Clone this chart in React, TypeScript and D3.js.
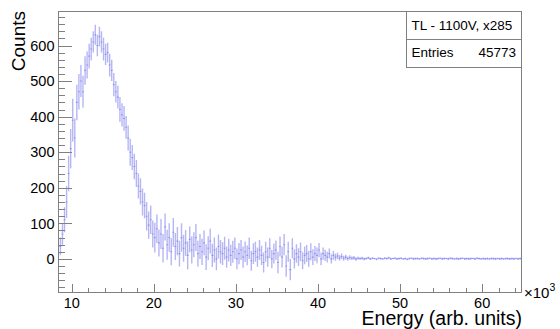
import React from "react";
import * as d3 from "d3";

// Histogram: bins of 250 (arb. units), starting at 8500
const binStart = 8.5; // in 10^3 units
const binWidth = 0.25;
const counts: number[] = [
  35, 70, 110, 160, 240, 310, 390, 340, 440, 470,
  500, 470, 530, 545, 570, 590, 610, 630, 600, 625,
  610, 590, 575, 580, 545, 530, 490, 470, 455, 420,
  405, 395, 370, 340, 300, 285, 260, 240, 205, 190,
  160, 150, 120, 95, 110, 70, 60, 85, 45, 70,
  30, 90, 40, 60, 20, 75, 35, 50, 15, 60,
  30, 45, 10, 55, 25, 40, 60, 15, 35, 20,
  45, 5, 30, 50, 10, 25, 0, 35, 20, 15,
  30, 5, 25, 10, 20, 30, 0, 15, 25, 5,
  20, 10, 30, -5, 15, 20, 5, 25, 10, -10,
  20, 5, 30, 0, 15, 25, -10, 35, 5, 40,
  -20, 20, -30, 30, 0, 15, 5, 20, -5, 10,
  15, 0, 20, 5, 15, 10, 25, 0, 15, 10,
  5, 15, 0, 10, 5, 8, 3, 7, 2, 5,
  1, 4, 2, 3, 0, 2, 1, 2, 0, 1,
  3, 0, 2, 1, -1, 2, 1, 0, 2, 1,
  3, 0, 1, 2, 0, 1, 2, 0, 1, -1,
  1, 2, 0, 1, 1, 0, 2, 1, 0, 1,
  2, 0, 1, 0, 1, 2, 0, 1, 1, 0,
  2, 1, 0, 1, 0, 1, 2, 0, 1, 0,
  1, 1, 0, 2, 1, 0, 1, 0, 1, 0,
  1, 1, 0, 1, 0, 1, 0, 1, 1, 0,
  1, 0, 1, 0, 1, 0,
];
const errors: number[] = [
  25, 30, 35, 45, 50, 55, 60, 55, 50, 50,
  45, 45, 40, 38, 35, 32, 30, 28, 30, 28,
  30, 32, 30, 28, 32, 30, 33, 30, 32, 35,
  33, 35, 32, 35, 38, 35, 36, 38, 35, 37,
  38, 36, 40, 38, 40, 38, 42, 40, 38, 42,
  40, 38, 42, 40, 38, 40, 38, 40, 36, 40,
  38, 36, 40, 36, 38, 35, 38, 36, 35, 37,
  35, 36, 34, 35, 33, 35, 32, 34, 33, 32,
  32, 30, 32, 30, 31, 30, 29, 30, 28, 30,
  29, 28, 30, 28, 29, 28, 27, 28, 27, 28,
  28, 27, 28, 26, 28, 27, 30, 28, 29, 30,
  30, 28, 30, 28, 27, 26, 25, 26, 24, 25,
  24, 23, 24, 22, 21, 22, 20, 18, 17, 16,
  15, 14, 13, 12, 10, 9, 8, 8, 7, 7,
  6, 6, 5, 5, 5, 4, 4, 4, 4, 3,
  3, 3, 3, 2, 3, 3, 3, 2, 3, 3,
  3, 3, 2, 3, 3, 3, 3, 2, 3, 3,
  3, 2, 3, 3, 3, 2, 3, 3, 3, 3,
  2, 3, 3, 3, 3, 2, 3, 3, 2, 3,
  3, 3, 2, 3, 3, 3, 2, 3, 3, 3,
  3, 2, 3, 3, 3, 2, 3, 3, 3, 2,
  3, 3, 3, 2, 3, 3, 2, 3, 3, 3,
  3, 3, 2, 3, 3, 2,
];

const xMajorTicks = [10, 20, 30, 40, 50, 60];
const yMajorTicks = [0, 100, 200, 300, 400, 500, 600];
const legendTitle = "TL - 1100V, x285";
const entriesLabel = "Entries";
const entriesValue = "45773";
const xTitle = "Energy (arb. units)";
const yTitle = "Counts";

const W = 560, H = 329;
const L = 58, R = 522, T = 11, B = 292;
const FONT = "'Liberation Sans', Arial, Helvetica, sans-serif";
const AX = "#808080";
const HIST = "rgb(80,80,230)";

const px = (v: number) => Math.round(v) + 0.5;

export default function App() {
  const x = d3.scaleLinear().domain([8.33, 64.85]).range([L, R]);
  const y = d3.scaleLinear().domain([-93, 697]).range([B, T]);

  const xMinor = d3.range(10, 65, 2).filter((v) => v % 10 !== 0 && x(v) < R);
  const yMinor = d3.range(-80, 697, 20).filter((v) => v % 100 !== 0);

  const bins = counts.map((c, i) => {
    const lo = binStart + i * binWidth;
    return { lo, hi: lo + binWidth, mid: lo + binWidth / 2, c, e: errors[i] ?? 0 };
  });

  let vpath = "";
  let hpath = "";
  bins.forEach((b) => {
    const xm = x(b.mid);
    vpath += `M${xm},${y(b.c - b.e)}L${xm},${y(b.c + b.e)}`;
    const yc = y(b.c);
    hpath += `M${x(b.lo)},${yc}L${x(b.hi)},${yc}`;
  });

  return (
    <svg width={W} height={H} style={{ position: "absolute", left: 0, top: 0, background: "#fff" }} fontFamily={FONT}>
      <defs>
        <clipPath id="plotclip">
          <rect x={L} y={T} width={R - L} height={B - T} />
        </clipPath>
      </defs>
      <rect x={0} y={0} width={W} height={H} fill="#fff" />
      {/* histogram */}
      <g clipPath="url(#plotclip)">
        <path d={vpath} stroke={HIST} strokeOpacity={0.42} strokeWidth={1.4} fill="none" />
        <path d={hpath} stroke={HIST} strokeOpacity={0.4} strokeWidth={1.1} fill="none" />
      </g>
      {/* frame */}
      <rect x={L + 0.5} y={T + 0.5} width={R - L - 1} height={B - T} fill="none" stroke={AX} strokeWidth={1} />
      {/* y ticks */}
      {yMajorTicks.map((v) => (
        <g key={"ym" + v}>
          <line x1={L} x2={L + 14} y1={px(y(v))} y2={px(y(v))} stroke={AX} />
          <text x={54.5} y={y(v)} dy="0.36em" textAnchor="end" fontSize={14.5} fill="#000">{v}</text>
        </g>
      ))}
      {yMinor.map((v) => (
        <line key={"yn" + v} x1={L} x2={L + 7} y1={px(y(v))} y2={px(y(v))} stroke={AX} />
      ))}
      {/* x ticks */}
      {xMajorTicks.map((v) => (
        <g key={"xm" + v}>
          <line x1={px(x(v))} x2={px(x(v))} y1={B} y2={B - 8} stroke={AX} />
          <text x={x(v)} y={307.5} textAnchor="middle" fontSize={14.5} fill="#000">{v}</text>
        </g>
      ))}
      {xMinor.map((v) => (
        <line key={"xn" + v} x1={px(x(v))} x2={px(x(v))} y1={B} y2={B - 4} stroke={AX} />
      ))}
      {/* x10^3 */}
      <text x={524} y={298} fontSize={15} fill="#000">
        ×10<tspan dy={-7} fontSize={10.5}>3</tspan>
      </text>
      {/* axis titles */}
      <text x={R} y={324.5} textAnchor="end" fontSize={19.5} fill="#000">{xTitle}</text>
      <text transform={`translate(25,${T}) rotate(-90)`} textAnchor="end" fontSize={19} fill="#000">{yTitle}</text>
      {/* legend */}
      <rect x={406.5} y={T + 0.5} width={R - 406.5 - 0.5} height={56} fill="#fff" stroke={AX} />
      <line x1={406.5} x2={R} y1={39.5} y2={39.5} stroke={AX} />
      <text x={411.5} y={29.5} fontSize={13.5} fill="#000">{legendTitle}</text>
      <text x={411.5} y={57} fontSize={13.5} fill="#000">{entriesLabel}</text>
      <text x={516} y={57} textAnchor="end" fontSize={13.5} fill="#000">{entriesValue}</text>
    </svg>
  );
}
